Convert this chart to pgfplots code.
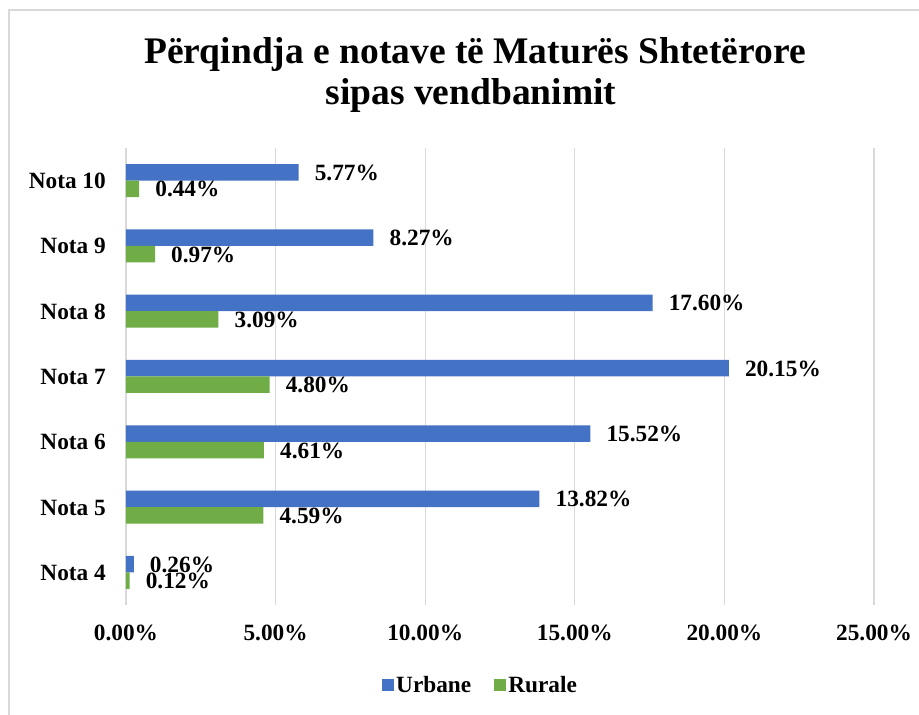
\documentclass[border=0pt]{standalone}
\usepackage{pgfplots}
\pgfplotsset{compat=1.18}
\usepackage{fontspec}
\setmainfont{Liberation Serif}
\definecolor{ublue}{HTML}{4472C4}
\definecolor{rgreen}{HTML}{70AD47}
\definecolor{gridgray}{HTML}{D9D9D9}
\pgfplotsset{sqlegend/.style={legend image code/.code={\fill[##1,draw=none] (0pt,-6pt) rectangle (12pt,6pt);}}}
\begin{document}
\begin{tikzpicture}
\useasboundingbox (0pt,0pt) rectangle (919pt,715pt);
\draw[gridgray,line width=1.2pt] (9pt,-5pt) -- (9pt,705pt) -- (930pt,705pt);
\node[font=\fontsize{37.5}{42}\selectfont\bfseries,anchor=base] at (475pt,651pt) {Përqindja e notave të Maturës Shtetërore};
\node[font=\fontsize{37.5}{42}\selectfont\bfseries,anchor=base] at (471pt,610pt) {sipas vendbanimit};
\begin{axis}[
  at={(126pt,110pt)}, anchor=south west,
  scale only axis, width=748pt, height=457pt,
  font=\fontsize{23.3}{28}\selectfont\bfseries,
  /pgf/number format/assume math mode=true,
  xbar, bar width=16.5pt,
  xmin=0, xmax=25, ymin=-0.5, ymax=6.5,
  xtick={0,5,10,15,20,25},
  xticklabel={\pgfmathprintnumber[fixed,fixed zerofill,precision=2]{\tick}\%},
  ytick={0,1,2,3,4,5,6},
  yticklabels={Nota 4,Nota 5,Nota 6,Nota 7,Nota 8,Nota 9,Nota 10},
  xticklabel style={anchor=base, yshift=-36pt, inner sep=0pt},
  yticklabel style={anchor=base east, xshift=-20pt, yshift=-8pt, inner sep=0pt},
  xmajorgrids, grid style={gridgray, line width=1.3pt},
  axis line style={draw=none}, major tick length=0pt, tick style={draw=none},
  point meta=x,
  nodes near coords={\pgfmathprintnumber[fixed,fixed zerofill,precision=2]{\pgfplotspointmeta}\%},
  nodes near coords style={anchor=base west, inner sep=0pt, xshift=16pt, yshift=-8pt, font=\fontsize{23.3}{28}\selectfont\bfseries, text=black},
  legend columns=2,
  legend style={draw=none, at={(0.474,-0.175)}, anchor=center, font=\fontsize{23.3}{28}\selectfont\bfseries,
    /tikz/every even column/.append style={column sep=21pt}, nodes={inner sep=2pt}},
]
\addplot[fill=ublue, draw=none, bar shift=8.25pt, sqlegend] coordinates {
(0.26,0) (13.82,1) (15.52,2) (20.15,3) (17.60,4) (8.27,5) (5.77,6)};
\addplot[fill=rgreen, draw=none, bar shift=-8.25pt, sqlegend] coordinates {
(0.12,0) (4.59,1) (4.61,2) (4.80,3) (3.09,4) (0.97,5) (0.44,6)};
\legend{Urbane,Rurale}
\end{axis}
\end{tikzpicture}
\end{document}
